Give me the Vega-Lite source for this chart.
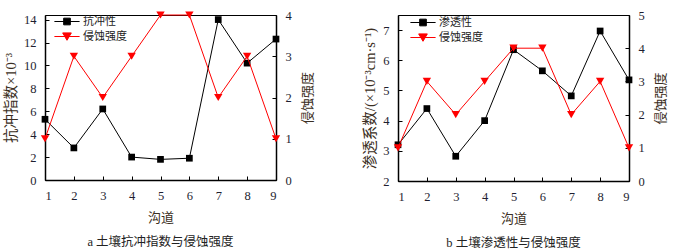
{
  "$schema": "https://vega.github.io/schema/vega-lite/v6.json",
  "background": "white",
  "padding": {"left": 3, "top": 8, "right": 0, "bottom": 0},
  "spacing": 47,
  "config": {
    "font": "Liberation Serif, Noto Sans CJK SC",
    "view": {"stroke": "black", "strokeWidth": 1},
    "axis": {
      "grid": false,
      "domainColor": "black",
      "domainWidth": 1.5,
      "tickColor": "black",
      "tickSize": -4,
      "tickWidth": 1,
      "labelFont": "Liberation Serif, Noto Sans CJK SC",
      "labelFontSize": 12.5,
      "labelColor": "#1e1e30",
      "labelPadding": 13,
      "titleFont": "Liberation Serif, Noto Sans CJK SC",
      "titleFontSize": 13,
      "titleFontWeight": "normal",
      "titleColor": "#3a2e22"
    },
    "legend": {
      "orient": "none",
      "padding": 0,
      "labelFont": "Liberation Serif, Noto Sans CJK SC",
      "labelFontSize": 11,
      "labelColor": "#222",
      "symbolSize": 324,
      "rowPadding": -3,
      "labelOffset": 6.5
    },
    "title": {
      "orient": "bottom",
      "font": "Liberation Serif, Noto Sans CJK SC",
      "fontSize": 12.5,
      "fontWeight": "normal",
      "color": "#222",
      "offset": 11
    }
  },
  "resolve": {"scale": {"color": "independent", "x": "independent", "y": "independent"}, "legend": {"color": "independent"}},
  "hconcat": [
    {
      "width": 231,
      "height": 165,
      "title": {"text": "a  土壤抗冲指数与侵蚀强度"},
      "data": {"values": [
        {"沟道": 1, "抗冲性": 5.3, "侵蚀强度": 1},
        {"沟道": 2, "抗冲性": 2.8, "侵蚀强度": 3},
        {"沟道": 3, "抗冲性": 6.2, "侵蚀强度": 2},
        {"沟道": 4, "抗冲性": 2.0, "侵蚀强度": 3},
        {"沟道": 5, "抗冲性": 1.8, "侵蚀强度": 4},
        {"沟道": 6, "抗冲性": 1.9, "侵蚀强度": 4},
        {"沟道": 7, "抗冲性": 14.0, "侵蚀强度": 2},
        {"沟道": 8, "抗冲性": 10.2, "侵蚀强度": 3},
        {"沟道": 9, "抗冲性": 12.3, "侵蚀强度": 1}
      ]},
      "transform": [{"fold": ["抗冲性", "侵蚀强度"], "as": ["key", "value"]}],
      "encoding": {
        "x": {"field": "沟道", "type": "quantitative", "scale": {"domain": [1, 9], "nice": false},
          "axis": {"values": [1, 2, 3, 4, 5, 6, 7, 8, 9], "format": "d", "title": "沟道", "titlePadding": 10}},
        "color": {"field": "key", "type": "nominal", "sort": ["抗冲性", "侵蚀强度"],
          "scale": {"domain": ["抗冲性", "侵蚀强度"], "range": ["black", "#ff0000"]},
          "legend": {"title": null, "legendX": 12.5, "legendY": -3,
            "encode": {"symbols": {"update": {
              "shape": {"signal": "datum.value === '抗冲性' ? 'M-1.4,0H1.4M-0.37,-0.37H0.37V0.37H-0.37Z' : 'M-1.4,0H1.4M-0.48,-0.4H0.48L0,0.42Z'"},
              "fill": {"signal": "datum.value === '抗冲性' ? 'black' : '#ff0000'"},
              "stroke": {"signal": "datum.value === '抗冲性' ? 'black' : '#ff0000'"},
              "strokeWidth": {"value": 1},
              "opacity": {"value": 1}
            }}}}}
      },
      "layer": [
        {
          "transform": [{"filter": "datum.key === '抗冲性'"}],
          "encoding": {"y": {"field": "value", "type": "quantitative", "scale": {"domain": [0, 14.4], "nice": false},
            "axis": {"values": [0, 2, 4, 6, 8, 10, 12, 14], "title": "抗冲指数×10⁻³", "titleFontSize": 14.5, "titlePadding": 5}}},
          "layer": [
            {"mark": {"type": "line", "strokeWidth": 1}},
            {"mark": {"type": "point", "shape": "square", "filled": true, "size": 45, "opacity": 1}}
          ]
        },
        {
          "transform": [{"filter": "datum.key === '侵蚀强度'"}],
          "encoding": {"y": {"field": "value", "type": "quantitative", "scale": {"domain": [0, 4], "nice": false},
            "axis": {"orient": "right", "values": [0, 1, 2, 3, 4], "title": "侵蚀强度", "titleAngle": -90, "titleBaseline": "top", "titleFontSize": 13, "titlePadding": 10}}},
          "layer": [
            {"mark": {"type": "line", "strokeWidth": 1}},
            {"mark": {"type": "point", "shape": "triangle-down", "filled": true, "size": 70, "opacity": 1}}
          ]
        }
      ],
      "resolve": {"scale": {"y": "independent"}}
    },
    {
      "width": 231,
      "height": 166,
      "title": {"text": "b  土壤渗透性与侵蚀强度"},
      "data": {"values": [
        {"沟道": 1, "渗透性": 3.2, "侵蚀强度": 1},
        {"沟道": 2, "渗透性": 4.4, "侵蚀强度": 3},
        {"沟道": 3, "渗透性": 2.82, "侵蚀强度": 2},
        {"沟道": 4, "渗透性": 4.0, "侵蚀强度": 3},
        {"沟道": 5, "渗透性": 6.35, "侵蚀强度": 4},
        {"沟道": 6, "渗透性": 5.65, "侵蚀强度": 4},
        {"沟道": 7, "渗透性": 4.82, "侵蚀强度": 2},
        {"沟道": 8, "渗透性": 6.97, "侵蚀强度": 3},
        {"沟道": 9, "渗透性": 5.35, "侵蚀强度": 1}
      ]},
      "transform": [{"fold": ["渗透性", "侵蚀强度"], "as": ["key", "value"]}],
      "encoding": {
        "x": {"field": "沟道", "type": "quantitative", "scale": {"domain": [1, 9], "nice": false},
          "axis": {"values": [1, 2, 3, 4, 5, 6, 7, 8, 9], "format": "d", "title": "沟道", "titlePadding": 10}},
        "color": {"field": "key", "type": "nominal", "sort": ["渗透性", "侵蚀强度"],
          "scale": {"domain": ["渗透性", "侵蚀强度"], "range": ["black", "#ff0000"]},
          "legend": {"title": null, "legendX": 15.5, "legendY": -2,
            "encode": {"symbols": {"update": {
              "shape": {"signal": "datum.value === '渗透性' ? 'M-1.4,0H1.4M-0.37,-0.37H0.37V0.37H-0.37Z' : 'M-1.4,0H1.4M-0.48,-0.4H0.48L0,0.42Z'"},
              "fill": {"signal": "datum.value === '渗透性' ? 'black' : '#ff0000'"},
              "stroke": {"signal": "datum.value === '渗透性' ? 'black' : '#ff0000'"},
              "strokeWidth": {"value": 1},
              "opacity": {"value": 1}
            }}}}}
      },
      "layer": [
        {
          "transform": [{"filter": "datum.key === '渗透性'"}],
          "encoding": {"y": {"field": "value", "type": "quantitative", "scale": {"domain": [2, 7.5], "nice": false},
            "axis": {"values": [2, 3, 4, 5, 6, 7], "title": "渗透系数/(×10⁻³cm·s⁻¹)", "titleFontSize": 14.5, "titlePadding": 5}}},
          "layer": [
            {"mark": {"type": "line", "strokeWidth": 1}},
            {"mark": {"type": "point", "shape": "square", "filled": true, "size": 45, "opacity": 1}}
          ]
        },
        {
          "transform": [{"filter": "datum.key === '侵蚀强度'"}],
          "encoding": {"y": {"field": "value", "type": "quantitative", "scale": {"domain": [0, 5], "nice": false},
            "axis": {"orient": "right", "values": [0, 1, 2, 3, 4, 5], "title": "侵蚀强度", "titleAngle": -90, "titleBaseline": "top", "titleFontSize": 13, "titlePadding": 10}}},
          "layer": [
            {"mark": {"type": "line", "strokeWidth": 1}},
            {"mark": {"type": "point", "shape": "triangle-down", "filled": true, "size": 70, "opacity": 1}}
          ]
        }
      ],
      "resolve": {"scale": {"y": "independent"}}
    }
  ]
}
